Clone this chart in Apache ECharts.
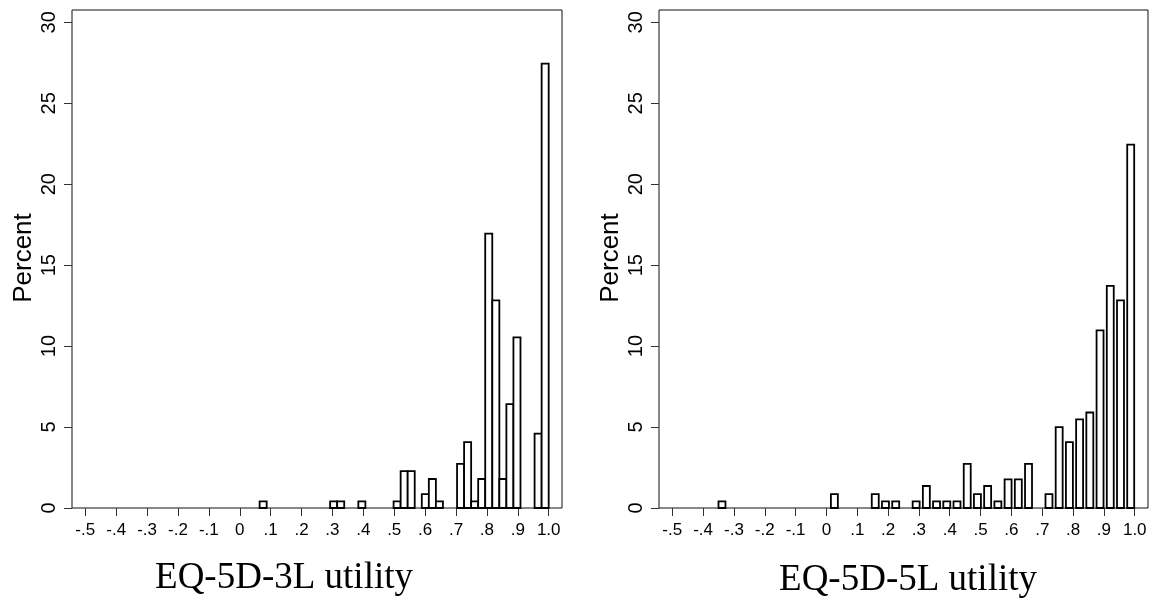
<!DOCTYPE html>
<html>
<head>
<meta charset="utf-8">
<script src="https://cdn.jsdelivr.net/npm/echarts@6/dist/echarts.min.js"></script>
<style>
  html, body { margin: 0; padding: 0; background: #fff; }
  #chart { width: 1158px; height: 603px; }
</style>
</head>
<body>
<div id="chart"></div>
<script>
// EQ-5D-3L histogram: left edge of each bin and percent
var edges3L = [0.0643, 0.2925, 0.3153, 0.3838, 0.4979, 0.5207, 0.5435, 0.5892, 0.6120, 0.6348,
  0.7033, 0.7261, 0.7489, 0.7717, 0.7945, 0.8174, 0.8402, 0.8630, 0.8858, 0.9543, 0.9771];
var pct3L = [0.41, 0.41, 0.41, 0.41, 0.41, 2.28, 2.28, 0.86, 1.79, 0.41,
  2.72, 4.07, 0.41, 1.79, 16.95, 12.82, 1.79, 6.42, 10.54, 4.59, 27.45];
var barWidth3L = 0.0228;

// EQ-5D-5L histogram
var edges5L = [-0.350, 0.0145, 0.1471, 0.1802, 0.2134, 0.2797, 0.3128, 0.3459, 0.3791, 0.4122,
  0.4454, 0.4785, 0.5116, 0.5448, 0.5779, 0.6111, 0.6442, 0.7105, 0.7436, 0.7768,
  0.8099, 0.8430, 0.8762, 0.9093, 0.9425, 0.9756];
var pct5L = [0.41, 0.86, 0.86, 0.41, 0.41, 0.41, 1.36, 0.41, 0.41, 0.41,
  2.72, 0.86, 1.36, 0.41, 1.77, 1.77, 2.72, 0.86, 5.0, 4.07,
  5.47, 5.9, 10.97, 13.72, 12.82, 22.45];
var barWidth5L = 0.0226;

var xTicks = [-0.5, -0.4, -0.3, -0.2, -0.1, 0, 0.1, 0.2, 0.3, 0.4, 0.5, 0.6, 0.7, 0.8, 0.9, 1.0];
var yTicks = [0, 5, 10, 15, 20, 25, 30];

function toBins(edges, pct, w) {
  return edges.map(function (e, i) { return [e, e + w, pct[i]]; });
}

function xLabel(v) {
  if (Math.abs(v) < 1e-9) return '0';
  if (Math.abs(v - 1) < 1e-9) return '1.0';
  return (v < 0 ? '-' : '') + '.' + Math.round(Math.abs(v) * 10);
}

function renderBar(params, api) {
  var p0 = api.coord([api.value(0), api.value(2)]);
  var p1 = api.coord([api.value(1), 0]);
  return {
    type: 'rect',
    shape: { x: p0[0], y: p0[1], width: p1[0] - p0[0], height: p1[1] - p0[1] },
    style: { fill: '#fff', stroke: '#000', lineWidth: 1.8 }
  };
}

function makeX(idx) {
  return {
    type: 'value', gridIndex: idx, min: -0.543, max: 1.043,
    axisLine: { show: false, onZero: false },
    splitLine: { show: false },
    axisTick: { show: true, length: 8, customValues: xTicks, lineStyle: { color: '#333' } },
    axisLabel: {
      customValues: xTicks, formatter: xLabel, margin: 14,
      fontFamily: 'Liberation Sans', fontSize: 17, color: '#000'
    }
  };
}

function makeY(idx) {
  return {
    type: 'value', gridIndex: idx, min: 0, max: 30.76,
    axisLine: { show: false, onZero: false },
    splitLine: { show: false },
    axisTick: { show: true, length: 8, customValues: yTicks, lineStyle: { color: '#333' } },
    axisLabel: {
      customValues: yTicks, rotate: 90, margin: 13,
      fontFamily: 'Liberation Sans', fontSize: 20, color: '#000'
    }
  };
}

var chart = echarts.init(document.getElementById('chart'));
chart.setOption({
  animation: false,
  backgroundColor: '#fff',
  grid: [
    { left: 72, top: 10, width: 490, height: 498, show: true, borderColor: '#111', borderWidth: 1 },
    { left: 659, top: 10, width: 489, height: 498, show: true, borderColor: '#111', borderWidth: 1 }
  ],
  xAxis: [makeX(0), makeX(1)],
  yAxis: [makeY(0), makeY(1)],
  series: [
    { type: 'custom', xAxisIndex: 0, yAxisIndex: 0, renderItem: renderBar, data: toBins(edges3L, pct3L, barWidth3L) },
    { type: 'custom', xAxisIndex: 1, yAxisIndex: 1, renderItem: renderBar, data: toBins(edges5L, pct5L, barWidth5L) }
  ],
  graphic: [
    { type: 'text', x: 24, y: 258, rotation: Math.PI / 2,
      style: { text: 'Percent', fontFamily: 'Liberation Sans', fontSize: 26, fill: '#000', align: 'center', verticalAlign: 'middle' } },
    { type: 'text', x: 611, y: 258, rotation: Math.PI / 2,
      style: { text: 'Percent', fontFamily: 'Liberation Sans', fontSize: 26, fill: '#000', align: 'center', verticalAlign: 'middle' } },
    { type: 'text', x: 284, y: 578,
      style: { text: 'EQ-5D-3L utility', fontFamily: 'Liberation Serif', fontSize: 37, fill: '#000', align: 'center', verticalAlign: 'middle' } },
    { type: 'text', x: 908, y: 580,
      style: { text: 'EQ-5D-5L utility', fontFamily: 'Liberation Serif', fontSize: 37, fill: '#000', align: 'center', verticalAlign: 'middle' } }
  ]
});
</script>
</body>
</html>
